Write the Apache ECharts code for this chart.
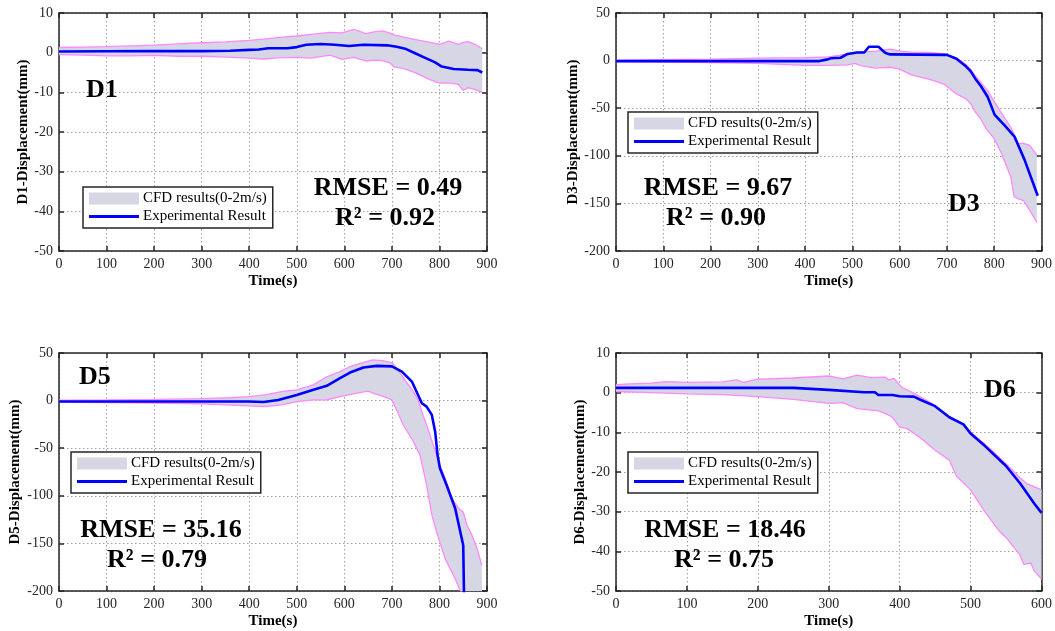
<!DOCTYPE html>
<html>
<head>
<meta charset="utf-8">
<script src="https://cdn.jsdelivr.net/npm/echarts@6/dist/echarts.min.js"></script>
<style>
html,body{margin:0;padding:0;background:#fff;}
#chart{width:1055px;height:631px;}
</style>
</head>
<body>
<div id="chart"></div>
<script>
// ---------------- DATA ----------------
const xTicks900 = [0, 100, 200, 300, 400, 500, 600, 700, 800, 900];
const xTicks600 = [0, 100, 200, 300, 400, 500, 600];

// D1
const d1BandTime = [0, 50, 100, 150, 200, 250, 300, 350, 400, 430, 460, 500, 530, 570, 595, 620, 645, 665, 680, 695, 705, 725, 750, 780, 800, 820, 840, 850, 860, 875, 890];
const d1Upper = [1.3, 1.4, 1.5, 1.7, 1.9, 2.2, 2.5, 2.7, 3.1, 3.4, 3.8, 4.2, 4.6, 5.1, 5.0, 5.9, 4.8, 5.3, 5.5, 5.0, 4.5, 3.9, 3.3, 2.6, 2.1, 2.9, 2.1, 2.6, 2.8, 2.1, 1.0];
const d1Lower = [-0.5, -0.6, -0.8, -0.8, -0.7, -0.9, -0.9, -1.1, -1.4, -1.6, -1.3, -1.2, -1.4, -0.6, -1.7, -1.2, -2.1, -1.9, -2.0, -2.5, -3.6, -4.0, -5.1, -6.8, -7.7, -7.6, -8.0, -9.5, -8.8, -9.3, -10.0];
const d1ExpTime = [0, 100, 200, 300, 360, 400, 420, 440, 480, 500, 520, 550, 580, 610, 640, 690, 710, 730, 750, 770, 790, 805, 830, 860, 880, 890];
const d1Exp = [0.3, 0.35, 0.4, 0.4, 0.5, 0.7, 0.8, 1.1, 1.1, 1.4, 2.0, 2.2, 2.0, 1.7, 2.0, 1.85, 1.5, 0.9, -0.2, -1.3, -2.4, -3.5, -4.1, -4.3, -4.4, -5.0];

// D3
const d3BandTime = [0, 100, 200, 300, 350, 400, 450, 490, 505, 520, 550, 580, 600, 625, 665, 695, 720, 740, 750, 760, 770, 785, 800, 815, 835, 842, 850, 862, 875, 890];
const d3Upper = [0.5, 1, 1.5, 2.5, 2.8, 3, 4, 7, 8.5, 9, 10, 12, 10, 9, 8.5, 7, 3, -4, -9, -16, -22, -31, -43, -55, -70, -77, -87, -87, -89, -99];
const d3Lower = [-1, -1.5, -2, -3, -4, -5, -5, -4.5, -3, -5.5, -8, -7, -9, -15, -20, -25, -35, -40, -45, -54, -60, -73, -82, -97, -122, -143, -145, -147, -157, -170];
const d3ExpTime = [0, 430, 445, 455, 475, 490, 510, 525, 535, 555, 570, 580, 700, 720, 740, 750, 760, 772, 786, 801, 822, 843, 864, 892];
const d3Exp = [-0.5, -0.5, 1, 2.5, 3, 7, 8.5, 8.5, 14.5, 14.5, 8, 6.5, 6, 2, -6, -11, -19, -27, -38, -57, -68, -80, -104, -142];

// D5
const d5UpperTime = [0, 100, 200, 300, 360, 400, 433, 468, 500, 535, 563, 591, 612, 630, 660, 680, 700, 710, 724, 745, 755, 763, 773, 787, 801, 812, 826, 840, 850, 858, 868, 879, 889];
const d5Upper = [0.5, 0.8, 1.2, 2, 3, 4.2, 6, 9.5, 11.3, 16.5, 25, 30.5, 35.8, 38.6, 42.8, 42, 40, 34, 24, 9.5, 0.7, -11.6, -25.6, -46.6, -67.7, -81.7, -102.7, -113, -117, -131, -141, -155, -173];
const d5LowerTime = [0, 100, 200, 300, 350, 400, 433, 468, 500, 535, 563, 598, 630, 650, 665, 685, 700, 710, 724, 745, 759, 773, 784, 794, 812, 833, 843, 870, 890];
const d5Lower = [-1.5, -2, -2.5, -3.5, -4.5, -5.6, -6.3, -4.5, -1, 0.7, 0.9, 5, 8, 10, 7, 4, 0.7, -9.8, -25.6, -43, -57, -88.7, -120, -138, -166, -187, -199, -215, -230];
const d5ExpTime = [0, 300, 400, 430, 461, 500, 535, 563, 591, 612, 640, 668, 700, 721, 742, 763, 773, 784, 791, 796, 801, 815, 833, 850, 852];
const d5Exp = [-1, -1, -1, -1.5, 0.7, 6, 11.3, 15.5, 23.5, 29.5, 34.8, 36.5, 36, 30.5, 20, -2.8, -6.3, -15, -32.6, -57, -71, -88.7, -113, -152, -215];

// D6
const d6UpperTime = [0, 20, 50, 70, 100, 150, 170, 180, 200, 250, 300, 320, 340, 360, 380, 385, 392, 402, 421, 445, 470, 490, 500, 510, 530, 550, 570, 580, 600];
const d6Upper = [2.0, 2.2, 2.4, 2.8, 2.6, 2.7, 3.2, 2.6, 3.4, 3.7, 4.2, 3.5, 4.4, 3.8, 3.9, 3.2, 3.6, 1.5, -0.2, -2.7, -6, -8, -10, -11.5, -14.5, -18, -21.5, -23, -24.5];
const d6LowerTime = [0, 50, 100, 150, 200, 250, 300, 320, 340, 370, 380, 390, 400, 410, 430, 450, 470, 480, 500, 520, 540, 550, 570, 575, 585, 590, 600];
const d6Lower = [0.3, 0, -0.3, -0.5, -1, -1.7, -2.7, -2.5, -4, -4.6, -5.3, -6.2, -8.7, -9, -11.5, -14.5, -17, -21, -24.5, -30, -34.8, -36.5, -41, -43.3, -43, -45, -47];
const d6ExpTime = [0, 250, 300, 350, 365, 370, 390, 400, 420, 430, 450, 470, 490, 500, 520, 550, 570, 590, 600];
const d6Exp = [1.2, 1.2, 0.7, 0.1, 0.1, -0.6, -0.6, -0.9, -1.0, -1.85, -3.4, -6.2, -8, -10.3, -13.4, -18.5, -22.9, -28, -30.3];

const yTicksD1 = [-50, -40, -30, -20, -10, 0, 10];
const yTicksD3 = [-200, -150, -100, -50, 0, 50];

const panelNames = ['D1', 'D3', 'D5', 'D6'];
const rmseTexts = ['RMSE = 0.49', 'RMSE = 9.67', 'RMSE = 35.16', 'RMSE = 18.46'];
const r2Texts = ['R\u00B2 = 0.92', 'R\u00B2 = 0.90', 'R\u00B2 = 0.79', 'R\u00B2 = 0.75'];
const CFD_NAME = 'CFD results(0-2m/s)';
const EXP_NAME = 'Experimental Result';
const xAxisTitle = 'Time(s)';

// ---------------- STYLE / LAYOUT ----------------
const FONT = '"Liberation Serif", "Times New Roman", Times, serif';
const BAND = '#d6d6e4';
const PINK = '#ff88ff';
const BLUE = '#0000ff';
const AXIS = '#262626';

const panels = [
  { name: 'D1', bt: d1BandTime, up: d1Upper, lt: d1BandTime, lo: d1Lower, et: d1ExpTime, ex: d1Exp, xt: xTicks900, yt: yTicksD1,
    grid: { left: 59, top: 13, width: 428, height: 238 }, yGap: 28,
    legend: { left: 83, top: 187 },
    label: { x: 86, y: 90 }, rmse: { x: 388, y: 188 }, r2: { x: 385, y: 218 } },
  { name: 'D3', bt: d3BandTime, up: d3Upper, lt: d3BandTime, lo: d3Lower, et: d3ExpTime, ex: d3Exp, xt: xTicks900, yt: yTicksD3,
    grid: { left: 616, top: 13, width: 428, height: 238 }, yGap: 35,
    legend: { left: 628, top: 112 },
    label: { x: 948, y: 204 }, rmse: { x: 718, y: 188 }, r2: { x: 716, y: 218 } },
  { name: 'D5', bt: d5UpperTime, up: d5Upper, lt: d5LowerTime, lo: d5Lower, et: d5ExpTime, ex: d5Exp, xt: xTicks900, yt: yTicksD3,
    grid: { left: 59, top: 353, width: 428, height: 238 }, yGap: 36,
    legend: { left: 71, top: 452 },
    label: { x: 79, y: 377 }, rmse: { x: 161, y: 530 }, r2: { x: 157, y: 560 } },
  { name: 'D6', bt: d6UpperTime, up: d6Upper, lt: d6LowerTime, lo: d6Lower, et: d6ExpTime, ex: d6Exp, xt: xTicks600, yt: yTicksD1,
    grid: { left: 616, top: 353, width: 428, height: 238 }, yGap: 27,
    legend: { left: 628, top: 452 },
    label: { x: 984, y: 390 }, rmse: { x: 725, y: 530 }, r2: { x: 724, y: 560 } }
];

const pairs = (t, v) => t.map((x, i) => [x, v[i]]);

const option = {
  animation: false,
  backgroundColor: '#ffffff',
  grid: [], xAxis: [], yAxis: [], series: [], legend: [], graphic: []
};

panels.forEach((p, gi) => {
  option.grid.push(Object.assign({ containLabel: false }, p.grid));
  const xMin = p.xt[0], xMax = p.xt[p.xt.length - 1];
  const yMin = p.yt[0], yMax = p.yt[p.yt.length - 1];
  const xInt = p.xt[1] - p.xt[0], yInt = p.yt[1] - p.yt[0];
  const axisLine = { show: true, onZero: false, lineStyle: { color: AXIS, width: 1.5 } };
  const axisTick = { show: true, inside: true, length: 5, lineStyle: { color: AXIS, width: 1.5 } };
  const split = { show: true, lineStyle: { color: '#a0a0a0', type: [1.5, 2.5], width: 1 } };
  option.xAxis.push({
    type: 'value', gridIndex: gi, min: xMin, max: xMax, interval: xInt, position: 'bottom',
    axisLine, axisTick, splitLine: split,
    axisLabel: { fontFamily: FONT, fontSize: 14, color: '#262626', margin: 6 },
    name: xAxisTitle, nameLocation: 'middle', nameGap: 23,
    nameTextStyle: { fontFamily: FONT, fontSize: 15, fontWeight: 'bold', color: '#000' }
  });
  option.yAxis.push({
    type: 'value', gridIndex: gi, min: yMin, max: yMax, interval: yInt, position: 'left',
    axisLine, axisTick, splitLine: split,
    axisLabel: { fontFamily: FONT, fontSize: 14, color: '#262626', margin: 6 },
    name: p.name + '-Displacement(mm)', nameLocation: 'middle', nameGap: p.yGap,
    nameTextStyle: { fontFamily: FONT, fontSize: 15, fontWeight: 'bold', color: '#000' }
  });
});
panels.forEach((p, gi) => {
  const xMin = p.xt[0], xMax = p.xt[p.xt.length - 1];
  const yMin = p.yt[0], yMax = p.yt[p.yt.length - 1];
  const axisLine = { show: true, onZero: false, lineStyle: { color: AXIS, width: 1.5 } };
  const axisTick = { show: true, inside: true, length: 5, lineStyle: { color: AXIS, width: 1.5 } };
  option.xAxis.push({ type: 'value', gridIndex: gi, min: xMin, max: xMax, interval: p.xt[1] - p.xt[0], position: 'top',
    axisLine, axisTick, axisLabel: { show: false }, splitLine: { show: false } });
  option.yAxis.push({ type: 'value', gridIndex: gi, min: yMin, max: yMax, interval: p.yt[1] - p.yt[0], position: 'right',
    axisLine, axisTick, axisLabel: { show: false }, splitLine: { show: false } });
});

panels.forEach((p, gi) => {
  option.series.push({
    type: 'custom', name: CFD_NAME, xAxisIndex: gi, yAxisIndex: gi, clip: true, silent: true,
    itemStyle: { color: BAND },
    encode: { x: 0, y: 1 },
    data: pairs(p.bt, p.up),
    renderItem: function (params, api) {
      if (params.dataIndex !== 0) return null;
      const pts = [];
      for (let i = 0; i < p.bt.length; i++) pts.push(api.coord([p.bt[i], p.up[i]]));
      for (let i = p.lt.length - 1; i >= 0; i--) pts.push(api.coord([p.lt[i], p.lo[i]]));
      return { type: 'polygon', shape: { points: pts }, style: { fill: BAND } };
    },
    z: 1
  });
  option.series.push({
    type: 'line', name: 'CFD upper', xAxisIndex: gi, yAxisIndex: gi, data: pairs(p.bt, p.up),
    symbol: 'none', lineStyle: { color: PINK, width: 1.3 }, itemStyle: { color: PINK }, z: 2, silent: true
  });
  option.series.push({
    type: 'line', name: 'CFD lower', xAxisIndex: gi, yAxisIndex: gi, data: pairs(p.lt, p.lo),
    symbol: 'none', lineStyle: { color: PINK, width: 1.3 }, itemStyle: { color: PINK }, z: 2, silent: true
  });
  option.series.push({
    type: 'line', name: EXP_NAME, xAxisIndex: gi, yAxisIndex: gi, data: pairs(p.et, p.ex),
    symbol: 'none', lineStyle: { color: BLUE, width: 2.6 }, itemStyle: { color: BLUE }, z: 3
  });

  option.legend.push({
    left: p.legend.left, top: p.legend.top, orient: 'vertical',
    backgroundColor: '#ffffff', borderColor: AXIS, borderWidth: 1.5, borderRadius: 0,
    padding: [4, 6, 4, 6], itemGap: 3, itemWidth: 50, itemHeight: 12, selectedMode: false,
    symbolKeepAspect: true,
    textStyle: { fontFamily: FONT, fontSize: 15, color: '#000', padding: [0, 0, 0, -1] },
    data: [
      { name: CFD_NAME, icon: 'rect', itemStyle: { color: BAND } },
      { name: EXP_NAME, icon: 'path://M0,0L50,0L50,2.8L0,2.8Z', itemStyle: { color: BLUE } }
    ]
  });

  const tf = (txt, x, y, size, align) => ({
    type: 'text', x: x, y: y, z: 100,
    style: { text: txt, fontFamily: FONT, fontWeight: 'bold', fontSize: size, fill: '#000',
      textAlign: align, textVerticalAlign: 'middle' }
  });
  option.graphic.push(tf(panelNames[gi], p.label.x, p.label.y, 26, 'left'));
  option.graphic.push(tf(rmseTexts[gi], p.rmse.x, p.rmse.y, 26, 'center'));
  option.graphic.push(tf(r2Texts[gi], p.r2.x, p.r2.y, 26, 'center'));
});

const chart = echarts.init(document.getElementById('chart'), null, { renderer: 'canvas' });
chart.setOption(option);
</script>
</body>
</html>
